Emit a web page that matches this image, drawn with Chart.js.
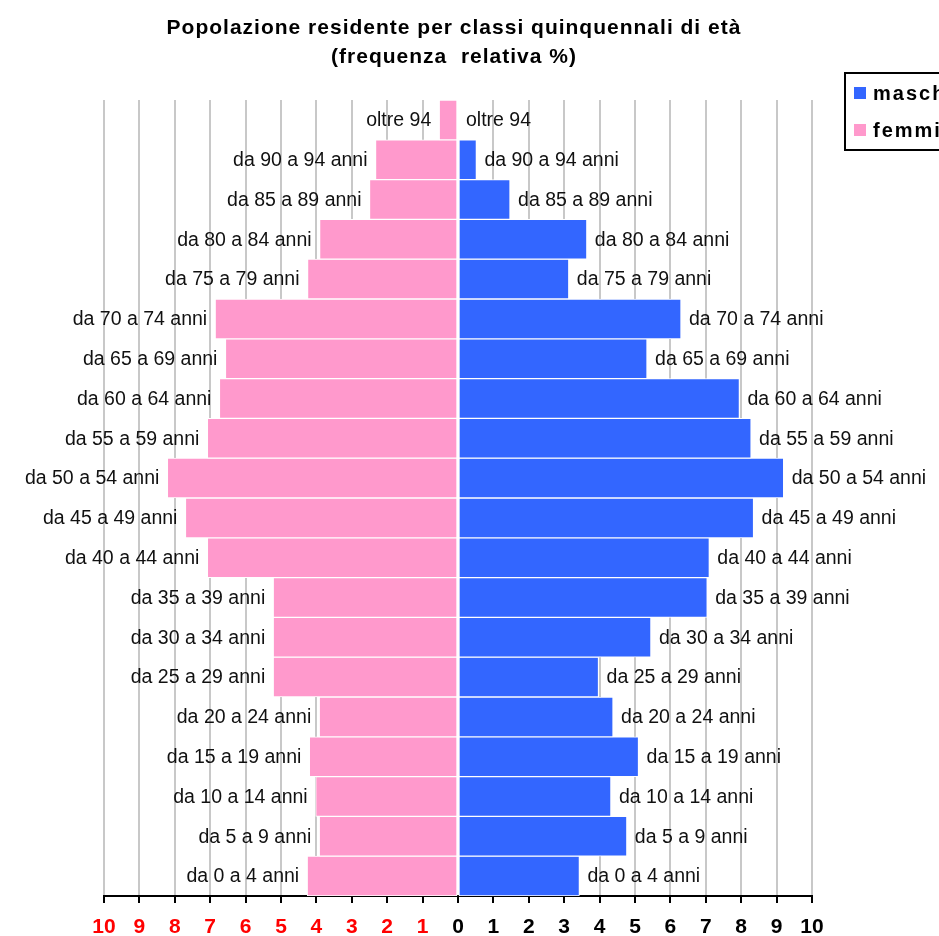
<!DOCTYPE html>
<html>
<head>
<meta charset="utf-8">
<script src="https://cdn.jsdelivr.net/npm/chart.js@4.4.1/dist/chart.umd.min.js"></script>
<style>
  html, body { margin: 0; padding: 0; background: #ffffff; }
  #wrap { width: 939px; height: 936px; }
</style>
</head>
<body>
<div id="wrap"><canvas id="c" width="939" height="936"></canvas></div>
<script>
// ---- data (ascending age; drawn with reversed axis so youngest is at the bottom)
const categories = [
  'da 0 a 4 anni', 'da 5 a 9 anni', 'da 10 a 14 anni', 'da 15 a 19 anni',
  'da 20 a 24 anni', 'da 25 a 29 anni', 'da 30 a 34 anni', 'da 35 a 39 anni',
  'da 40 a 44 anni', 'da 45 a 49 anni', 'da 50 a 54 anni', 'da 55 a 59 anni',
  'da 60 a 64 anni', 'da 65 a 69 anni', 'da 70 a 74 anni', 'da 75 a 79 anni',
  'da 80 a 84 anni', 'da 85 a 89 anni', 'da 90 a 94 anni', 'oltre 94'
];
const maschi = [3.43, 4.77, 4.32, 5.10, 4.38, 3.97, 5.45, 7.04, 7.10, 8.35,
                9.20, 8.28, 7.95, 5.34, 6.30, 3.13, 3.64, 1.47, 0.52, 0];
const femmine = [4.26, 3.92, 4.02, 4.20, 3.92, 5.22, 5.22, 5.22, 7.08, 7.70,
                 8.21, 7.08, 6.74, 6.57, 6.86, 4.25, 3.91, 2.50, 2.33, 0.53];
const seriesNames = ['maschi', 'femmine'];
const titleLines = ['Popolazione residente per classi quinquennali di età', '(frequenza  relativa %)'];
const axisMin = -10, axisMax = 10;

const BLUE = '#3366ff', PINK = '#ff99cc';
const FONT = '"Liberation Sans", Arial, sans-serif';

const titlePlugin = {
  id: 'titlePlugin',
  afterDraw(chart) {
    const ctx = chart.ctx;
    ctx.save();
    ctx.font = 'bold 21px ' + FONT;
    try { ctx.letterSpacing = '1px'; } catch (e) {}
    ctx.fillStyle = '#000000';
    ctx.textAlign = 'center';
    ctx.textBaseline = 'alphabetic';
    ctx.fillText(titleLines[0], 454, 34);
    ctx.fillText(titleLines[1], 454, 63);
    ctx.restore();
  }
};

const barLabels = {
  id: 'barLabels',
  afterDatasetsDraw(chart) {
    const ctx = chart.ctx;
    ctx.save();
    ctx.font = '19.5px ' + FONT;
    ctx.fillStyle = '#111111';
    ctx.textBaseline = 'middle';
    chart.data.datasets.forEach((ds, di) => {
      const meta = chart.getDatasetMeta(di);
      meta.data.forEach((el, i) => {
        const lbl = chart.data.labels[i];
        if (ds.data[i] < 0) {
          ctx.textAlign = 'right';
          ctx.fillText(lbl, el.x - 8, el.y + 1);
        } else {
          ctx.textAlign = 'left';
          ctx.fillText(lbl, el.x + 8, el.y + 1);
        }
      });
    });
    ctx.restore();
  }
};

const boxLegend = {
  id: 'boxLegend',
  afterDraw(chart) {
    const ctx = chart.ctx;
    ctx.save();
    ctx.lineWidth = 2;
    ctx.strokeStyle = '#000000';
    ctx.strokeRect(845, 73, 140, 77);
    ctx.font = 'bold 20px ' + FONT;
    ctx.textBaseline = 'middle';
    ctx.textAlign = 'left';
    try { ctx.letterSpacing = '2px'; } catch (e) {}
    chart.data.datasets.forEach((ds, i) => {
      const y = 93 + i * 37;
      ctx.fillStyle = ds.backgroundColor;
      ctx.fillRect(854, y - 6, 12, 12);
      ctx.fillStyle = '#000000';
      ctx.fillText(ds.label, 873, y + 1);
    });
    ctx.restore();
  }
};

new Chart(document.getElementById('c'), {
  type: 'bar',
  data: {
    labels: categories,
    datasets: [
      { label: seriesNames[0], data: maschi, backgroundColor: BLUE,
        borderColor: '#ffffff', borderWidth: 1, borderSkipped: false },
      { label: seriesNames[1], data: femmine.map(v => -v), backgroundColor: PINK,
        borderColor: '#ffffff', borderWidth: 1, borderSkipped: false }
    ]
  },
  options: {
    indexAxis: 'y',
    responsive: false,
    animation: false,
    devicePixelRatio: 1,
    layout: { padding: { left: 104, right: 127, top: 100, bottom: 0 } },
    datasets: { bar: { barPercentage: 1.0, categoryPercentage: 1.0 } },
    scales: {
      y: {
        stacked: true,
        reverse: true,
        display: false
      },
      x: {
        stacked: true,
        min: axisMin,
        max: axisMax,
        afterFit: (scale) => { scale.height = 40; },
        grid: {
          color: (c) => (c.tick && c.tick.value === 0) ? 'rgba(0,0,0,0)' : '#c8c8c8',
          lineWidth: 2,
          tickColor: '#000000',
          tickLength: 7,
          drawOnChartArea: true
        },
        border: { display: true, color: '#000000', width: 2 },
        ticks: {
          stepSize: 1,
          autoSkip: false,
          maxRotation: 0,
          padding: 14,
          font: { family: FONT, size: 21, weight: 'bold', lineHeight: 1 },
          color: (c) => (c.tick && c.tick.value < 0) ? '#ff0000' : '#000000',
          callback: (v) => Math.abs(v)
        }
      }
    },
    plugins: {
      legend: { display: false },
      tooltip: { enabled: false },
      title: { display: false }
    }
  },
  plugins: [barLabels, boxLegend, titlePlugin]
});
</script>
</body>
</html>
